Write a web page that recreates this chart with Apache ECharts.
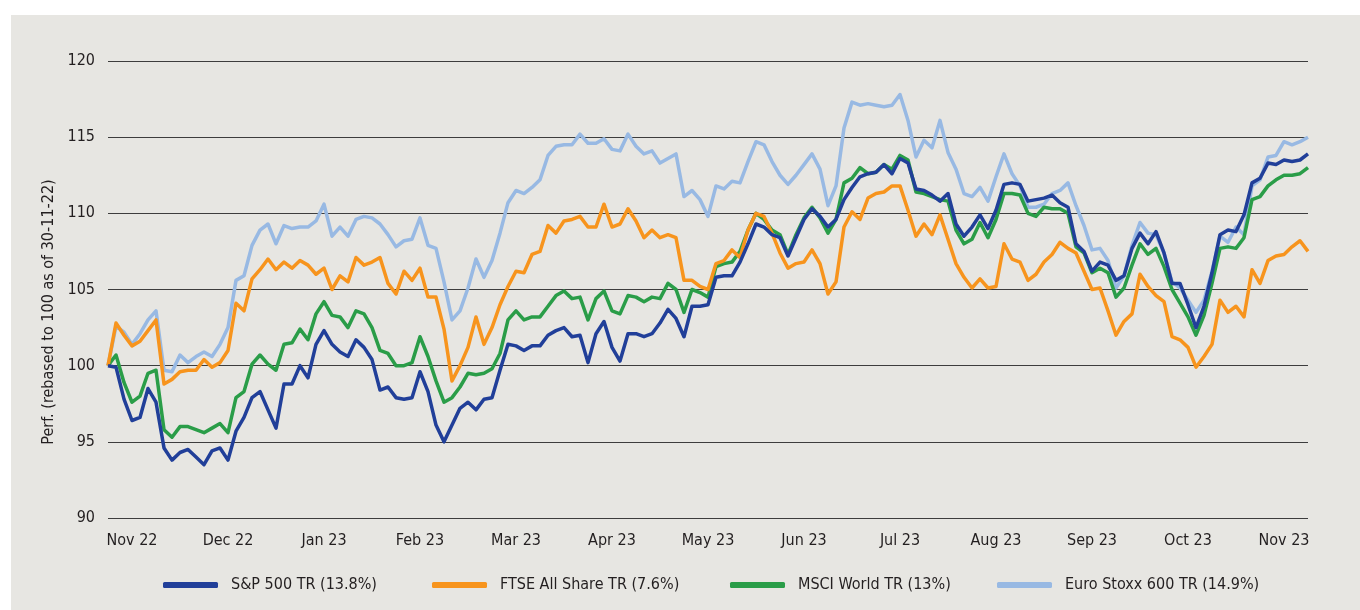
<!DOCTYPE html>
<html>
<head>
<meta charset="utf-8">
<script src="https://cdn.jsdelivr.net/npm/echarts@6/dist/echarts.min.js"></script>
<style>
  html, body { margin: 0; padding: 0; background: #fff; }
  #main { width: 1360px; height: 610px; }
</style>
</head>
<body>
<div id="main"></div>
<script>
// month labels, shown every 12th point starting at point 3
var monthLabels = ['Nov 22', 'Dec 22', 'Jan 23', 'Feb 23', 'Mar 23', 'Apr 23', 'May 23',
  'Jun 23', 'Jul 23', 'Aug 23', 'Sep 23', 'Oct 23', 'Nov 23'];
var labelStart = 3;
var labelStep = 12;

var yTicks = [90, 95, 100, 105, 110, 115, 120];

var seriesNames = ['S&P 500 TR (13.8%)', 'FTSE All Share TR (7.6%)', 'MSCI World TR (13%)', 'Euro Stoxx 600 TR (14.9%)'];

var sp500 = [
  100.0, 99.9, 97.8, 96.4, 96.6, 98.5, 97.6, 94.6, 93.8, 94.3,
  94.5, 94.0, 93.5, 94.4, 94.6, 93.8, 95.7, 96.6, 97.9, 98.3,
  97.1, 95.9, 98.8, 98.8, 100.0, 99.2, 101.4, 102.3, 101.4, 100.9,
  100.6, 101.7, 101.2, 100.4, 98.4, 98.6, 97.9, 97.8, 97.9, 99.6,
  98.3, 96.1, 95.0, 96.1, 97.2, 97.6, 97.1, 97.8, 97.9, 99.7,
  101.4, 101.3, 101.0, 101.3, 101.3, 102.0, 102.3, 102.5, 101.9, 102.0,
  100.2, 102.1, 102.9, 101.2, 100.3, 102.1, 102.1, 101.9, 102.1, 102.8,
  103.7, 103.1, 101.9, 103.9, 103.9, 104.0, 105.8, 105.9, 105.9, 106.8,
  108.0, 109.3, 109.1, 108.6, 108.4, 107.2, 108.4, 109.6, 110.3, 109.8,
  109.1, 109.6, 110.9, 111.7, 112.4, 112.6, 112.7, 113.2, 112.6, 113.6,
  113.3, 111.6, 111.5, 111.2, 110.8, 111.3, 109.3, 108.5, 109.1, 109.9,
  109.0, 110.2, 111.9, 112.0, 111.9, 110.8, 110.9, 111.0, 111.2, 110.7,
  110.4, 108.0, 107.5, 106.2, 106.8, 106.6, 105.6, 105.9, 107.7, 108.7,
  108.0, 108.8, 107.4, 105.4, 105.4, 104.0, 102.5, 103.9, 106.1, 108.6,
  108.9, 108.8, 109.9, 112.0, 112.3, 113.3, 113.2, 113.5, 113.4, 113.5,
  113.9
];

var ftse = [
  100.0, 102.8, 102.0, 101.3, 101.6, 102.3, 103.0, 98.8, 99.1, 99.6,
  99.7, 99.7, 100.4, 99.9, 100.2, 101.0, 104.1, 103.6, 105.7, 106.3,
  107.0, 106.3, 106.8, 106.4, 106.9, 106.6, 106.0, 106.4, 105.0, 105.9,
  105.5, 107.1, 106.6, 106.8, 107.1, 105.4, 104.7, 106.2, 105.6, 106.4,
  104.5, 104.5, 102.4, 99.0, 100.0, 101.2, 103.2, 101.4, 102.5, 104.0,
  105.2, 106.2, 106.1, 107.3, 107.5, 109.2, 108.7, 109.5, 109.6, 109.8,
  109.1, 109.1, 110.6, 109.1, 109.3, 110.3, 109.5, 108.4, 108.9, 108.4,
  108.6, 108.4, 105.6, 105.6, 105.2, 105.0, 106.7, 106.9, 107.6, 107.1,
  108.9, 110.0, 109.8, 108.7, 107.4, 106.4, 106.7, 106.8, 107.6, 106.7,
  104.7, 105.5, 109.1, 110.1, 109.6, 111.0, 111.3, 111.4, 111.8, 111.8,
  110.2, 108.5, 109.3, 108.6, 109.9, 108.3, 106.7, 105.8, 105.1, 105.7,
  105.1, 105.2, 108.0, 107.0, 106.8, 105.6, 106.0, 106.8, 107.3, 108.1,
  107.7, 107.4, 106.2, 105.0, 105.1, 103.6, 102.0, 102.9, 103.4, 106.0,
  105.2, 104.6, 104.2, 101.9, 101.7, 101.2, 99.9, 100.6, 101.4, 104.3,
  103.5, 103.9, 103.2, 106.3, 105.4, 106.9, 107.2, 107.3, 107.8, 108.2,
  107.5
];

var msciWorld = [
  100.0, 100.7, 98.9, 97.6, 98.0, 99.5, 99.7, 95.8, 95.3, 96.0,
  96.0, 95.8, 95.6, 95.9, 96.2, 95.6, 97.9, 98.3, 100.1, 100.7,
  100.1, 99.7, 101.4, 101.5, 102.4, 101.7, 103.4, 104.2, 103.3, 103.2,
  102.5, 103.6, 103.4, 102.5, 101.0, 100.8, 100.0, 100.0, 100.2, 101.9,
  100.6, 99.0, 97.6, 97.9, 98.6, 99.5, 99.4, 99.5, 99.8, 100.8,
  103.0, 103.6, 103.0, 103.2, 103.2, 103.9, 104.6, 104.9, 104.4, 104.5,
  103.0, 104.4, 104.9, 103.6, 103.4, 104.6, 104.5, 104.2, 104.5, 104.4,
  105.4, 105.0, 103.5, 105.0, 104.8, 104.5, 106.5, 106.7, 106.8, 107.5,
  108.9, 110.0, 109.6, 108.9, 108.6, 107.3, 108.6, 109.7, 110.4, 109.7,
  108.7, 109.6, 112.0, 112.3, 113.0, 112.6, 112.7, 113.2, 112.9, 113.8,
  113.5, 111.4, 111.3, 111.1, 110.9, 110.8, 108.9, 108.0, 108.3, 109.4,
  108.4, 109.6, 111.3, 111.3, 111.2, 110.0, 109.8, 110.4, 110.3, 110.3,
  110.0, 107.8, 107.4, 106.1, 106.4, 106.1, 104.5, 105.1, 106.6, 108.0,
  107.3, 107.7, 106.5, 105.0, 104.1, 103.2, 102.0, 103.3, 105.4, 107.7,
  107.8, 107.7, 108.4, 110.9, 111.1, 111.8, 112.2, 112.5, 112.5, 112.6,
  113.0
];

var euroStoxx = [
  100.0, 102.6, 102.2, 101.4, 102.1, 103.0, 103.6, 99.7, 99.6, 100.7,
  100.2, 100.6, 100.9, 100.6, 101.4, 102.5, 105.6, 105.9, 107.9, 108.9,
  109.3, 108.0, 109.2, 109.0, 109.1, 109.1, 109.5, 110.6, 108.5, 109.1,
  108.5, 109.6, 109.8, 109.7, 109.3, 108.6, 107.8, 108.2, 108.3, 109.7,
  107.9, 107.7, 105.5, 103.0, 103.6, 105.1, 107.0, 105.8, 106.9, 108.7,
  110.7, 111.5, 111.3, 111.7, 112.2, 113.8, 114.4, 114.5, 114.5, 115.2,
  114.6, 114.6, 114.9, 114.2, 114.1, 115.2, 114.4, 113.9, 114.1, 113.3,
  113.6, 113.9, 111.1, 111.5, 110.9, 109.8, 111.8, 111.6, 112.1, 112.0,
  113.4, 114.7, 114.5, 113.4, 112.5, 111.9, 112.5, 113.2, 113.9, 112.9,
  110.5, 111.8, 115.6, 117.3, 117.1, 117.2, 117.1, 117.0, 117.1, 117.8,
  116.1, 113.7, 114.8, 114.3, 116.1, 114.0, 112.9, 111.3, 111.1, 111.7,
  110.8, 112.4, 113.9, 112.6, 111.8, 110.4, 110.4, 110.6, 111.3, 111.5,
  112.0, 110.5, 109.2, 107.6, 107.7, 106.9, 105.1, 105.9, 107.9, 109.4,
  108.7, 108.6, 107.4, 105.5, 105.1, 104.3, 103.5, 104.3, 106.2, 108.5,
  108.1, 109.1, 108.6, 111.8, 112.2, 113.7, 113.8, 114.7, 114.5, 114.7,
  115.0
];

var colors = ['#213f99', '#f7941d', '#2a9d48', '#98b9e3'];
var font = "'Liberation Sans Narrow', 'DejaVu Sans Condensed', sans-serif";

// one category per point; month name on every labelStep-th point
var categories = [];
for (var i = 0; i < sp500.length; i++) {
  var m = (i - labelStart) / labelStep;
  categories.push(i >= labelStart && m === Math.floor(m) ? monthLabels[m] : '');
}

var chart = echarts.init(document.getElementById('main'));

var legendLeft = [163, 432, 730, 997];
var legends = seriesNames.map(function (name, i) {
  return {
    data: [name],
    left: legendLeft[i],
    top: 577,
    padding: 0,
    icon: 'roundRect',
    itemWidth: 55,
    itemHeight: 6,
    selectedMode: false,
    textStyle: { fontFamily: font, fontSize: 16, color: '#231f20', padding: [0, 0, 0, 8] }
  };
});

var option = {
  animation: false,
  backgroundColor: '#ffffff',
  graphic: [
    {
      type: 'rect',
      left: 11, top: 15, z: -10,
      shape: { width: 1349, height: 595 },
      style: { fill: '#e7e6e2' }
    },
    {
      type: 'text',
      x: 49, y: 312, rotation: Math.PI / 2,
      style: {
        text: 'Perf. (rebased to 100 as of 30-11-22)',
        fontFamily: font, fontSize: 16, fill: '#231f20',
        align: 'center', verticalAlign: 'middle'
      }
    }
  ],
  legend: legends,
  grid: { left: 108, right: 52, top: 61, bottom: 92 },
  xAxis: {
    type: 'category',
    data: categories,
    boundaryGap: false,
    axisLine: { show: false },
    axisTick: { show: false },
    axisLabel: {
      interval: function (idx) { return idx >= labelStart && (idx - labelStart) % labelStep === 0; },
      margin: 15,
      fontFamily: font, fontSize: 16, color: '#231f20'
    }
  },
  yAxis: {
    type: 'value',
    min: yTicks[0],
    max: yTicks[yTicks.length - 1],
    interval: 5,
    axisLine: { show: false },
    axisTick: { show: false },
    splitLine: { lineStyle: { color: '#3d3d3d', width: 1 } },
    axisLabel: { margin: 13, fontFamily: font, fontSize: 16, color: '#231f20' }
  },
  series: [
    { name: seriesNames[3], type: 'line', data: euroStoxx, color: colors[3], z: 2 },
    { name: seriesNames[2], type: 'line', data: msciWorld, color: colors[2], z: 3 },
    { name: seriesNames[1], type: 'line', data: ftse, color: colors[1], z: 4 },
    { name: seriesNames[0], type: 'line', data: sp500, color: colors[0], z: 5 }
  ].map(function (s) {
    s.symbol = 'none';
    s.lineStyle = { width: 3.5, join: 'round' };
    return s;
  })
};

chart.setOption(option);
</script>
</body>
</html>
